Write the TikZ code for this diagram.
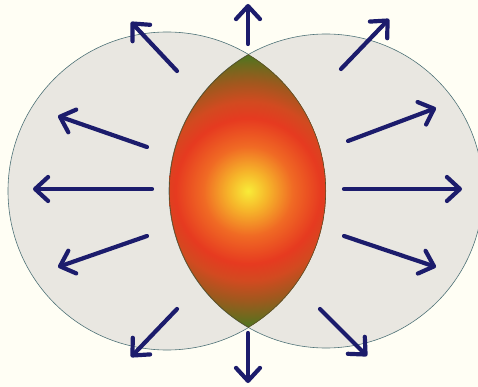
\documentclass[tikz,border=0pt]{standalone}
\usetikzlibrary{arrows.meta}
\definecolor{bgcream}{RGB}{255,254,244}
\definecolor{discfill}{RGB}{233,231,225}
\definecolor{discline}{RGB}{80,115,120}
\definecolor{lensline}{RGB}{90,80,40}
\definecolor{rayblue}{RGB}{28,28,108}
\definecolor{glowY}{RGB}{248,236,56}
\definecolor{glowLO}{RGB}{246,181,42}
\definecolor{glowO}{RGB}{240,106,36}
\definecolor{glowR}{RGB}{230,58,32}
\definecolor{glowRB}{RGB}{210,74,32}
\definecolor{glowB}{RGB}{160,88,30}
\definecolor{glowOl}{RGB}{110,106,30}
\definecolor{glowG}{RGB}{63,122,34}
\pgfdeclareradialshading{lensglow}{\pgfpoint{0bp}{0bp}}{%
  color(0bp)=(glowY); color(3.5bp)=(glowLO); color(8bp)=(glowO);
  color(13bp)=(glowR); color(16bp)=(glowRB); color(19.5bp)=(glowB);
  color(22.5bp)=(glowOl); color(25bp)=(glowG); color(50bp)=(glowG)}

\begin{document}
\begin{tikzpicture}[
  x=1pt, y=-1pt,
  disc/.style={fill=discfill, draw=discline, line width=0.6pt},
  rim/.style={draw=lensline, line width=1.2pt},
  ray/.style={draw=rayblue, line width=4.2pt, line cap=round,
    -{Straight Barb[length=13pt,width=24pt,line cap=round,round]}},
]
\useasboundingbox[fill=bgcream] (0,0) rectangle (478,387);

% ---- Centres ----
\coordinate (lc)   at (167,191);
\coordinate (rc)   at (326,191);
\coordinate (core) at (248,191);

% ---- Discs ----
\path[disc] (lc) circle (159pt);
\path[disc] (rc) circle (157pt);

% ---- Lens (overlap of both discs) ----
\begin{scope}
  \clip (lc) circle (159pt);
  \clip (rc) circle (157pt);
  \shade[shading=lensglow] (core) circle (140pt);
  \path[rim] (lc) circle (159pt);
  \path[rim] (rc) circle (157pt);
\end{scope}

% ---- Rays ----
\foreach \sx/\sy/\ex/\ey in {248/44/248/4, 248/333/248/383,
    177/71/131/22, 147/147/58/116, 152/189/33/189,
    147/236/58/267, 177/309/131/357,
    341/69/389/19, 348/141/436/108, 344/189/462/189,
    344/236/436/267, 320/309/367/356}
  \path[ray] (\sx,\sy) -- (\ex,\ey);

\end{tikzpicture}
\end{document}
